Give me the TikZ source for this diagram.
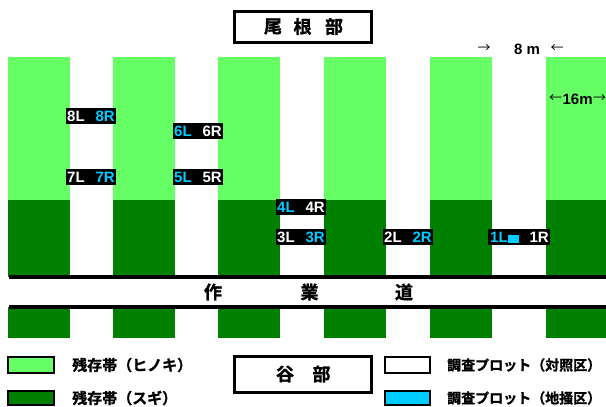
\documentclass[tikz,border=0pt]{standalone}
\usepackage{fontspec}
\setmainfont{Liberation Sans}
\newfontfamily\jp{Noto Sans CJK JP}[BoldFont={Noto Sans CJK JP Bold},BoldFeatures={FakeBold=1.2}]
\definecolor{lgreen}{RGB}{102,255,102}
\definecolor{dgreen}{RGB}{0,128,0}
\definecolor{plotcyan}{RGB}{0,204,255}
\begin{document}
\begin{tikzpicture}[x=1pt,y=-1pt,
  titlebox/.style={draw=black,line width=3pt,fill=white},
  bigjp/.style={font=\jp\bfseries\fontsize{18}{18}\selectfont,inner sep=0pt},
  legjp/.style={font=\jp\bfseries\fontsize{15}{15}\selectfont,inner sep=0pt,anchor=west},
  lbl/.style={font=\bfseries\fontsize{15}{15}\selectfont,inner sep=0pt},
  legbox/.style={draw=black,line width=2.5pt},
  roadline/.style={line width=4pt},
  dim/.style={font=\bfseries\fontsize{15}{15}\selectfont,inner sep=0pt},
  arr/.style={font=\jp\fontsize{13}{13}\selectfont,inner sep=0pt}]
\useasboundingbox (0,0) rectangle (606,407);
\fill[white] (0,0) rectangle (606,407);
% strips
\foreach \xa/\xb in {8/70,113/175,218/280,324/386,430/492,546/606}{
  \fill[lgreen] (\xa,57) rectangle (\xb,200);
  \fill[dgreen] (\xa,200) rectangle (\xb,277);
  \fill[dgreen] (\xa,307) rectangle (\xb,338);
}
% road
\draw[roadline] (9,277) -- (606,277);
\draw[roadline] (9,307) -- (606,307);
\node[bigjp] (r1) at (213,292) {作};
\node[bigjp] (r2) at (309.5,292) {業};
\node[bigjp] (r3) at (404,292) {道};
% title
\draw[titlebox] (234,11) rectangle (371,42);
\node[bigjp] (t1) at (273,26.5) {尾};
\node[bigjp] (t2) at (302.5,26.5) {根};
\node[bigjp] (t3) at (334,26.5) {部};
% dimensions
\node[arr] (a1) at (484,49) {→};
\node[dim] (d8) at (527,49) {8 m};
\node[arr] (a2) at (557,49) {←};
\node[arr,anchor=west] (a3) at (549,99) {←};
\node[dim,anchor=west] (d16) at (a3.east) {16m};
\node[arr,anchor=west] (a4) at (d16.east) {→};
% plot labels
\foreach \cx/\cy/\n/\lc/\rc in {91/116/8/white/plotcyan, 198/131/6/plotcyan/white, 91/177/7/white/plotcyan, 198/177/5/plotcyan/white, 301/207/4/plotcyan/white, 301/237/3/white/plotcyan, 408/237/2/white/plotcyan}{
  \fill[black] (\cx-25,\cy-8) rectangle (\cx+25,\cy+8);
  \node[lbl,text=\lc,anchor=west] (L\n) at (\cx-24,\cy) {\n L};
  \node[lbl,text=\rc,anchor=east] (R\n) at (\cx+24,\cy) {\n R};
}
\fill[black] (488,229) rectangle (550,245);
\node[lbl,text=plotcyan,anchor=west] (L1) at (490,237) {1L};
\fill[plotcyan] (508,235) rectangle (519,243);
\node[lbl,text=white,anchor=east] (R1) at (549,237) {1R};
% legend
\draw[legbox,fill=lgreen] (8,357) rectangle (54,373);
\node[legjp] (g1) at (72,365) {残存帯（ヒノキ）};
\draw[legbox,fill=dgreen] (8,391) rectangle (54,405);
\node[legjp] (g2) at (72,398) {残存帯（スギ）};
\draw[titlebox] (234,356) rectangle (371,392);
\node[bigjp] (v1) at (285,374) {谷};
\node[bigjp] (v2) at (321.5,374) {部};
\draw[legbox,fill=white] (385,357) rectangle (430,373);
\node[legjp,font=\jp\bfseries\fontsize{14}{14}\selectfont] (g3) at (447,365) {調査プロット（対照区）};
\draw[legbox,fill=plotcyan] (385,391) rectangle (430,405);
\node[legjp,font=\jp\bfseries\fontsize{14}{14}\selectfont] (g4) at (447,398) {調査プロット（地掻区）};
\end{tikzpicture}
\end{document}
